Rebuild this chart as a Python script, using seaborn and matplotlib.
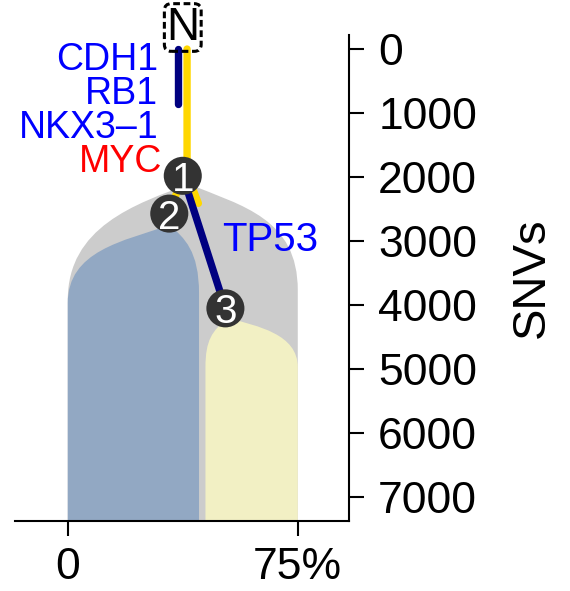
import numpy as np
import pandas as pd
import matplotlib
matplotlib.use("Agg")
import matplotlib.pyplot as plt
from matplotlib.path import Path
from matplotlib.patches import PathPatch
import seaborn as sns

# ---------------- data ----------------
node_labels = ["1", "2", "3"]
node_x = [37.5, 33.1, 51.4]
node_snvs = [1980, 2570, 4050]

genes = ["CDH1", "RB1", "NKX3\u20131", "MYC"]
gene_colors = ["#0000FF", "#0000FF", "#0000FF", "#FF0000"]
gene_x = [29.5, 29.5, 29.5, 30.8]
gene_snvs = [172, 706, 1240, 1760]

branch_gene = "TP53"
branch_gene_x = 66.0
branch_gene_snvs = 2984

# clone envelopes (apex + bezier shoulders), SNV axis points down
clone_colors = ["#CCCCCC", "#92A8C3", "#F2F0C4"]
apex_x = [39.5, 33.2, 52.3]
apex_y = [2110, 2750, 4200]
left_x = [0.0, 0.0, 44.9]
right_x = [75.0, 42.8, 75.0]
left_c1 = [(22.0, 2420), (18.0, 3000), (47.0, 4400)]
left_c2y = [2780, 3150, 4550]
left_end_y = [3920, 3970, 4970]
right_c1 = [(57.0, 2450), (38.0, 2950), (62.0, 4330)]
right_c2y = [2650, 3150, 4450]
right_end_y = [3770, 3820, 4970]

# edges
short_navy_x = [36.0, 36.0]
short_navy_y = [0, 866]
trunk_x = [38.9, 38.9, 42.6]
trunk_y = [0, 1950, 2410]

x_ticks = [0, 75]
x_ticklabels = ["0", "75%"]
y_ticks = [0, 1000, 2000, 3000, 4000, 5000, 6000, 7000]

Y_BOTTOM, Y_TOP = 7366, -219
X_LEFT, X_RIGHT = -17.2, 91.7

# ---------------- style ----------------
sns.set_style("ticks")
plt.rcParams["font.family"] = ["Liberation Sans", "DejaVu Sans"]

fig = plt.figure(figsize=(5.7, 5.91), dpi=100)
ax = fig.add_axes([15 / 570, 1 - 520.7 / 591, (349 - 15) / 570, (520.7 - 35) / 591])

# clone envelopes
for i in range(3):
    verts = [
        (left_x[i], Y_BOTTOM),
        (left_x[i], left_end_y[i]),
        (left_x[i], left_c2y[i]),
        left_c1[i],
        (apex_x[i], apex_y[i]),
        right_c1[i],
        (right_x[i], right_c2y[i]),
        (right_x[i], right_end_y[i]),
        (right_x[i], Y_BOTTOM),
        (left_x[i], Y_BOTTOM),
    ]
    codes = [Path.MOVETO, Path.LINETO, Path.CURVE4, Path.CURVE4, Path.CURVE4,
             Path.CURVE4, Path.CURVE4, Path.CURVE4, Path.LINETO, Path.CLOSEPOLY]
    ax.add_patch(PathPatch(Path(verts, codes), facecolor=clone_colors[i],
                           edgecolor="none", zorder=1 + (i > 0)))

LW = 5.3
line_kw = dict(estimator=None, sort=False, legend=False, ax=ax,
               linewidth=LW, solid_capstyle="round")

sns.lineplot(x=short_navy_x, y=short_navy_y, color="#000080", zorder=3, **line_kw)
sns.lineplot(x=trunk_x, y=trunk_y, color="#FFD700", zorder=3, **line_kw)
sns.lineplot(x=[node_x[0], node_x[1]], y=[node_snvs[0], node_snvs[1]],
             color="#FFD700", zorder=3, **line_kw)
sns.lineplot(x=[node_x[0], node_x[2]], y=[node_snvs[0], node_snvs[2]],
             color="#000080", zorder=3, **line_kw)

nodes = pd.DataFrame({"x": node_x, "snvs": node_snvs, "label": node_labels})
sns.scatterplot(data=nodes, x="x", y="snvs", s=27.4 ** 2, color="#333333",
                edgecolor="none", zorder=4, ax=ax, legend=False)
for _, r in nodes.iterrows():
    ax.text(r["x"], r["snvs"], r["label"], ha="center", va="center_baseline",
            color="white", fontsize=29, zorder=5)

# normal root
ax.text(37.5, -336, "N", ha="center", va="center", fontsize=33, color="black",
        clip_on=False, zorder=6,
        bbox=dict(boxstyle="round,pad=0.04,rounding_size=0.15", facecolor="none",
                  edgecolor="black", linestyle=(0, (2.2, 1.2)), linewidth=2.2))

for g, c, gx, gy in zip(genes, gene_colors, gene_x, gene_snvs):
    ax.text(gx, gy, g, ha="right", va="center", color=c, fontsize=27, zorder=6)
ax.text(branch_gene_x, branch_gene_snvs, branch_gene, ha="center", va="center",
        color="#0000FF", fontsize=29, zorder=6)

# axes
ax.set_xlim(X_LEFT, X_RIGHT)
ax.set_ylim(Y_BOTTOM, Y_TOP)
ax.set_xticks(x_ticks)
ax.set_xticklabels(x_ticklabels)
ax.yaxis.tick_right()
ax.yaxis.set_label_position("right")
ax.set_yticks(y_ticks)
ax.set_yticklabels([str(v) for v in y_ticks])
for s in ["left", "top"]:
    ax.spines[s].set_visible(False)
for s in ["right", "bottom"]:
    ax.spines[s].set_linewidth(1.5)
    ax.spines[s].set_color("black")
ax.tick_params(axis="both", which="major", labelsize=32, length=11, width=1.5,
               direction="out", colors="black", labelcolor="black", pad=8)
ax.tick_params(axis="y", pad=10)
ax.set_xlabel("")
ax.set_ylabel("SNVs", fontsize=34, color="black")
ax.yaxis.set_label_coords(1.547, 0.5)
ax.yaxis.label.set_va("center")
ax.set_facecolor("white")

fig.savefig("out.png", dpi=100, facecolor="white")
